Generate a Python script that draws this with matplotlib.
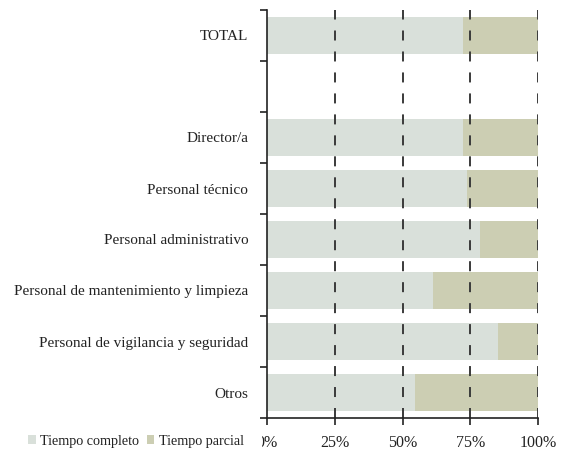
import matplotlib.pyplot as plt
from matplotlib.patches import Rectangle
import numpy as np

categories = ["TOTAL", "", "Director/a", "Personal técnico", "Personal administrativo",
              "Personal de mantenimiento y limpieza", "Personal de vigilancia y seguridad", "Otros"]
completo = [72.5, np.nan, 72.3, 73.8, 78.6, 61.3, 85.2, 54.6]
parcial = [100 - v if not np.isnan(v) else np.nan for v in completo]
xticks = [0, 25, 50, 75, 100]
xticklabels = ["0%", "25%", "50%", "75%", "100%"]

plt.rcParams['font.family'] = ['Liberation Serif', 'DejaVu Serif']

fig = plt.figure(figsize=(5.62, 4.53), dpi=100)
ax = fig.add_axes([267/562, 1 - 418/453, (538 - 267)/562, (418 - 10)/453])

y = np.arange(len(categories))
c1 = '#D9E0DA'
c2 = '#CCCEB3'
comp = np.nan_to_num(completo)
parc = np.nan_to_num(parcial)
ax.barh(y, comp, height=0.71, color=c1, label='Tiempo completo', zorder=1)
ax.barh(y, parc, left=comp, height=0.71, color=c2, label='Tiempo parcial', zorder=1)

lw = 1.4
for xv in xticks[1:]:
    ax.axvline(xv, color='#3a3a3a', linestyle=(0, (7.2 / lw, 7.9 / lw)), linewidth=lw, zorder=2)

ax.set_xlim(0, 100)
ax.set_ylim(len(categories) - 0.5, -0.5)
ax.set_xticks(xticks)
ax.set_xticklabels(xticklabels, fontsize=11.5, color='#222222')
ax.set_yticks(np.arange(-0.5, len(categories), 1.0))
ax.set_yticklabels([])
ax.set_yticks(y, minor=True)
ax.set_yticklabels(categories, minor=True, fontsize=11, color='#222222')
ax.tick_params(axis='y', which='minor', length=0, pad=13.5)
ax.tick_params(axis='y', which='major', length=5, width=1.2, color='#222222')
ax.tick_params(axis='x', length=5, width=1.2, color='#222222', pad=7)
for s in ['top', 'right']:
    ax.spines[s].set_visible(False)
ax.spines['left'].set_linewidth(1.2)
ax.spines['bottom'].set_linewidth(1.2)
ax.spines['left'].set_color('#222222')
ax.spines['bottom'].set_color('#222222')

# white backing of the legend area (covers part of the first tick label, as in the original)
fig.patches.append(Rectangle((20/562, 1 - 451/453), (262 - 20)/562, 20/453,
                             transform=fig.transFigure, facecolor='white',
                             edgecolor='none', zorder=4))

leg = fig.legend(loc='center left', bbox_to_anchor=(27/562, 1 - 441/453), ncol=2,
                 frameon=False, fontsize=10.2, handlelength=0.55, handleheight=0.55,
                 handletextpad=0.3, columnspacing=0.5, borderpad=0.1, borderaxespad=0)
leg.set_zorder(5)
for t in leg.get_texts():
    t.set_color('#222222')

fig.savefig('out.png', dpi=100)
